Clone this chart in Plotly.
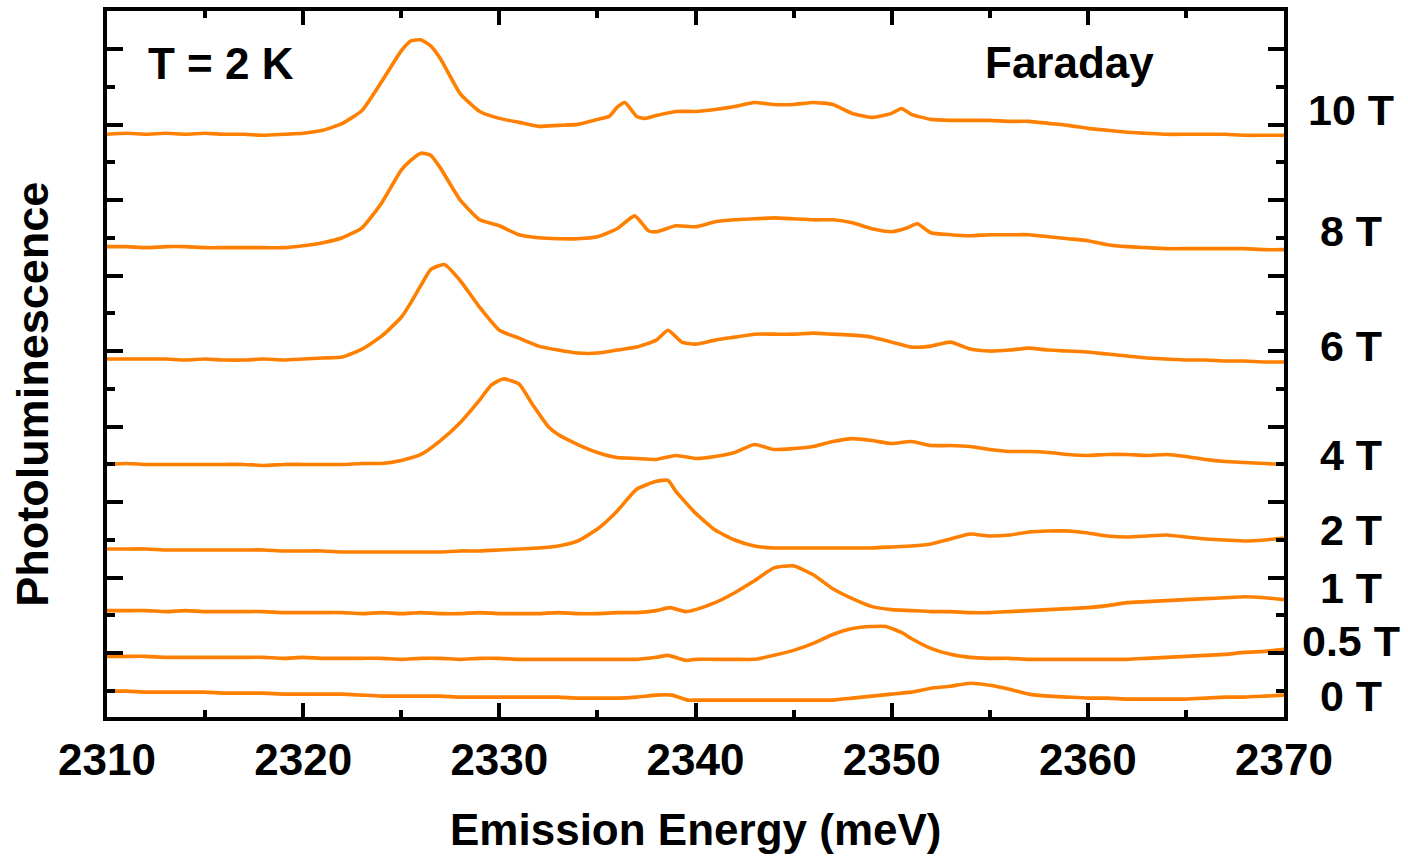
import plotly.graph_objects as go

# Photoluminescence spectra (arbitrary units, vertically offset as in the figure)
FIELDS = ["10 T", "8 T", "6 T", "4 T", "2 T", "1 T", "0.5 T", "0 T"]
X_TICKS = [2310, 2320, 2330, 2340, 2350, 2360, 2370]

E_10T = [2310, 2311, 2312, 2313, 2314, 2315, 2316, 2317, 2318, 2319, 2320, 2321, 2322, 2323, 2324,
         2325, 2325.5, 2326, 2326.5, 2327, 2328, 2329, 2330, 2331, 2332, 2333, 2334, 2335, 2335.6,
         2336, 2336.4, 2337, 2337.4, 2338, 2339, 2340, 2341, 2342, 2343, 2344, 2345, 2346, 2347,
         2348, 2349, 2350, 2350.5, 2351, 2352, 2353, 2354, 2355, 2356, 2357, 2358, 2359, 2360, 2361,
         2362, 2363, 2364, 2365, 2366, 2367, 2368, 2369, 2370]
PL_10T = [586, 587, 586, 587, 586, 587, 586, 586, 585, 586, 587, 590, 597, 610, 639,
          670, 680, 681, 675, 662, 627, 609, 602, 598, 594, 595, 596, 601, 604,
          613, 618, 604, 602, 605, 609, 609, 611, 614, 618, 616, 616, 618, 616,
          607, 603, 607, 612, 606, 601, 600, 600, 600, 599, 599, 597, 595, 592, 590,
          588, 587, 586, 586, 586, 586, 585, 585, 585]

E_8T = [2310, 2311, 2312, 2313, 2314, 2315, 2316, 2317, 2318, 2319, 2320, 2321, 2322, 2323, 2324,
        2325, 2325.5, 2326, 2326.5, 2327, 2328, 2329, 2330, 2331, 2332, 2333, 2334, 2335, 2336,
        2336.9, 2337.6, 2338, 2339, 2340, 2341, 2342, 2343, 2344, 2345, 2346, 2347, 2348, 2349,
        2350, 2350.8, 2351.3, 2352, 2353, 2354, 2355, 2356, 2357, 2358, 2359, 2360, 2361, 2362,
        2363, 2364, 2365, 2366, 2367, 2368, 2369, 2370]
PL_8T = [473, 473, 472, 473, 473, 472, 472, 472, 472, 472, 474, 477, 482, 492, 517,
         550, 560, 567, 565, 552, 520, 500, 494, 485, 482, 481, 481, 483, 491,
         504, 489, 488, 494, 493, 498, 500, 501, 502, 501, 500, 500, 497, 491,
         488, 492, 496, 487, 485, 484, 485, 485, 485, 483, 481, 479, 475, 473,
         472, 471, 471, 471, 471, 471, 470, 470]

E_6T = [2310, 2311, 2312, 2313, 2314, 2315, 2316, 2317, 2318, 2319, 2320, 2321, 2322, 2323, 2324,
        2325, 2325.5, 2326, 2326.5, 2327.2, 2328, 2329, 2330, 2331, 2332, 2333, 2334, 2335, 2336,
        2337, 2338, 2338.6, 2339.3, 2340, 2341, 2342, 2343, 2344, 2345, 2346, 2347, 2348, 2349,
        2350, 2351, 2352, 2353, 2354, 2355, 2356, 2357, 2358, 2359, 2360, 2361, 2362, 2363, 2364,
        2365, 2366, 2367, 2368, 2369, 2370]
PL_6T = [360, 360, 360, 360, 359, 360, 359, 359, 360, 359, 360, 361, 362, 370, 383,
         402, 417, 434, 450, 455, 439, 412, 389, 381, 373, 369, 366, 366, 369,
         372, 379, 389, 377, 375, 379, 382, 385, 385, 385, 386, 385, 384, 382,
         377, 372, 373, 377, 370, 368, 369, 371, 369, 368, 367, 365, 363, 361, 360,
         359, 359, 358, 358, 357, 357]

E_4T = [2310, 2311, 2312, 2313, 2314, 2315, 2316, 2317, 2318, 2319, 2320, 2321, 2322, 2323, 2324,
        2325, 2326, 2327, 2328, 2329, 2329.6, 2330.2, 2331, 2331.7, 2332.5, 2333, 2334, 2335, 2336,
        2337, 2338, 2339, 2340, 2341, 2342, 2343, 2344, 2345, 2346, 2347, 2348, 2349, 2350, 2351,
        2352, 2353, 2354, 2355, 2356, 2357, 2358, 2359, 2360, 2361, 2362, 2363, 2364, 2365, 2366,
        2367, 2368, 2369, 2370]
PL_4T = [254, 255, 254, 254, 254, 254, 254, 254, 253, 254, 254, 254, 254, 255, 255,
         258, 264, 278, 296, 319, 334, 340, 335, 314, 292, 284, 274, 266, 261,
         260, 259, 263, 260, 262, 266, 274, 269, 270, 272, 277, 280, 278, 275, 277,
         273, 273, 272, 269, 267, 267, 266, 264, 263, 264, 264, 263, 264, 262, 259,
         257, 256, 255, 254]

E_2T = [2310, 2311, 2312, 2313, 2314, 2315, 2316, 2317, 2318, 2319, 2320, 2321, 2322, 2323, 2324,
        2325, 2326, 2327, 2328, 2329, 2330, 2331, 2332, 2333, 2334, 2335, 2336, 2337, 2338, 2338.6,
        2339, 2340, 2341, 2342, 2343, 2344, 2345, 2346, 2347, 2348, 2349, 2350, 2351, 2352, 2353,
        2354, 2355, 2356, 2357, 2358, 2359, 2360, 2361, 2362, 2363, 2364, 2365, 2366, 2367, 2368,
        2369, 2370]
PL_2T = [169, 169, 169, 168, 168, 168, 168, 168, 168, 167, 167, 167, 166, 166, 166,
         166, 166, 166, 167, 167, 168, 169, 170, 172, 177, 189, 207, 229, 237, 238,
         227, 205, 188, 178, 172, 170, 170, 170, 170, 170, 170, 171, 172, 174, 179,
         184, 182, 183, 186, 187, 187, 185, 182, 181, 182, 183, 181, 179, 178, 177,
         178, 180]

E_1T = [2310, 2311, 2312, 2313, 2314, 2315, 2316, 2317, 2318, 2319, 2320, 2321, 2322, 2323, 2324,
        2325, 2326, 2327, 2328, 2329, 2330, 2331, 2332, 2333, 2334, 2335, 2336, 2337, 2338, 2338.7,
        2339.5, 2340, 2341, 2342, 2343, 2344, 2345, 2346, 2347, 2348, 2349, 2350, 2351, 2352, 2353,
        2354, 2355, 2356, 2357, 2358, 2359, 2360, 2361, 2362, 2363, 2364, 2365, 2366, 2367, 2368,
        2369, 2370]
PL_1T = [107, 107, 107, 106, 107, 106, 106, 106, 106, 105, 105, 105, 105, 104, 105,
         104, 105, 104, 104, 105, 104, 104, 104, 105, 104, 104, 105, 105, 107, 110,
         106, 108, 115, 125, 137, 150, 152, 143, 129, 119, 111, 108, 107, 106, 106,
         105, 105, 106, 107, 108, 109, 110, 112, 115, 116, 117, 118, 119, 120, 121,
         120, 118]

E_05T = [2310, 2311, 2312, 2313, 2314, 2315, 2316, 2317, 2318, 2319, 2320, 2321, 2322, 2323, 2324,
         2325, 2326, 2327, 2328, 2329, 2330, 2331, 2332, 2333, 2334, 2335, 2336, 2337, 2338, 2338.6,
         2339.5, 2340, 2341, 2342, 2343, 2344, 2345, 2346, 2347, 2348, 2349, 2349.7, 2350.5, 2351,
         2352, 2353, 2354, 2355, 2356, 2357, 2358, 2359, 2360, 2361, 2362, 2363, 2364, 2365, 2366,
         2367, 2368, 2369, 2370]
PL_05T = [61, 61, 61, 60, 60, 60, 60, 60, 60, 59, 60, 59, 59, 59, 59,
          58, 59, 59, 58, 59, 59, 58, 58, 58, 58, 58, 58, 58, 60, 62,
          57, 58, 58, 58, 58, 62, 67, 74, 83, 89, 91, 91, 85, 79,
          69, 63, 60, 59, 59, 58, 58, 58, 58, 58, 58, 59, 60, 61, 62,
          63, 65, 66, 68]

E_0T = [2310, 2311, 2312, 2313, 2314, 2315, 2316, 2317, 2318, 2319, 2320, 2321, 2322, 2323, 2324,
        2325, 2326, 2327, 2328, 2329, 2330, 2331, 2332, 2333, 2334, 2335, 2336, 2337, 2338, 2338.8,
        2339.6, 2340, 2341, 2342, 2343, 2344, 2345, 2346, 2347, 2348, 2349, 2350, 2351, 2352, 2353,
        2354, 2355, 2356, 2357, 2358, 2359, 2360, 2361, 2362, 2363, 2364, 2365, 2366, 2367, 2368,
        2369, 2370]
PL_0T = [26, 26, 25, 25, 25, 25, 24, 24, 24, 23, 23, 23, 23, 22, 21,
         21, 21, 21, 20, 20, 20, 20, 20, 20, 19, 19, 19, 20, 22, 22,
         17, 17, 17, 17, 17, 17, 17, 17, 17, 19, 21, 23, 25, 29, 31,
         34, 32, 28, 23, 21, 20, 19, 19, 18, 18, 18, 18, 19, 20, 20,
         21, 22]

SERIES = [(E_10T, PL_10T), (E_8T, PL_8T), (E_6T, PL_6T), (E_4T, PL_4T),
          (E_2T, PL_2T), (E_1T, PL_1T), (E_05T, PL_05T), (E_0T, PL_0T)]
# label anchor heights (same a.u. as the spectra)
LABEL_Y = [610, 489, 373, 263, 188, 130, 76, 21]

ORANGE = "#FF8000"
FONT = "Liberation Sans, Arial, sans-serif"


def bold(size):
    return dict(family=FONT, size=size, color="black", weight="bold")


fig = go.Figure()
for name, (e, pl) in zip(FIELDS, SERIES):
    fig.add_trace(go.Scatter(x=e, y=pl, mode="lines", name=name,
                             line=dict(color=ORANGE, width=3.6, shape="spline", smoothing=0.5),
                             showlegend=False))

annotations = []
for name, ly in zip(FIELDS, LABEL_Y):
    annotations.append(dict(x=1.057, xref="paper", y=ly, yref="y", text=name,
                            showarrow=False, xanchor="center", yanchor="middle", font=bold(43)))
annotations += [
    dict(x=0.0969, y=0.925, xref="paper", yref="paper", text="T = 2 K", showarrow=False,
         xanchor="center", yanchor="middle", font=bold(44)),
    dict(x=0.818, y=0.927, xref="paper", yref="paper", text="Faraday", showarrow=False,
         xanchor="center", yanchor="middle", font=bold(44)),
    dict(x=0.5, y=-0.160, xref="paper", yref="paper", text="Emission Energy (meV)",
         showarrow=False, xanchor="center", yanchor="middle", font=bold(44)),
    dict(x=-0.0629, y=0.4577, xref="paper", yref="paper", text="Photoluminescence",
         showarrow=False, textangle=-90, xanchor="center", yanchor="middle", font=bold(45)),
]

fig.update_layout(
    width=1408, height=856,
    margin=dict(l=107, r=124, t=7, b=139),
    paper_bgcolor="white", plot_bgcolor="white",
    annotations=annotations,
    xaxis=dict(range=[2310, 2370], tickvals=X_TICKS, ticks="inside", ticklen=14, tickwidth=3.5,
               tickcolor="black", showline=True, linewidth=3.5, linecolor="black",
               mirror="ticks", showgrid=False, zeroline=False,
               ticklabelstandoff=1,
               tickfont=bold(44),
               minor=dict(dtick=5, tick0=2310, ticks="inside", ticklen=7, tickwidth=3.5,
                          tickcolor="black", showgrid=False)),
    yaxis=dict(range=[0, 710], tick0=64.3, dtick=75.9, ticks="inside", ticklen=16, tickwidth=3.5,
               tickcolor="black", showline=True, linewidth=3.5, linecolor="black",
               mirror="ticks", showgrid=False, zeroline=False, showticklabels=False,
               minor=dict(dtick=37.95, tick0=64.3, ticks="inside", ticklen=8, tickwidth=3.5,
                          tickcolor="black", showgrid=False)),
)

fig.write_html("out.html")
